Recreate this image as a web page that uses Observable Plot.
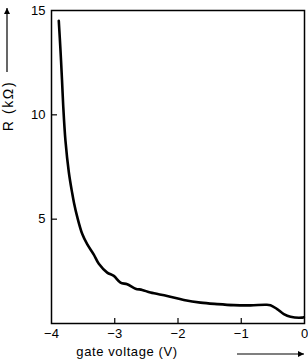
<!DOCTYPE html>
<html><head><meta charset="utf-8">
<script src="https://cdn.jsdelivr.net/npm/d3@7"></script>
<script src="https://cdn.jsdelivr.net/npm/@observablehq/plot@0.6"></script>
<style>body{margin:0;background:#fff}</style>
</head><body><div id="chart"></div>
<script>
const voltage = [-3.885, -3.858, -3.834, -3.815, -3.779, -3.726, -3.673, -3.644, -3.594, -3.515, -3.436, -3.331, -3.252, -3.119, -3.015, -2.909, -2.803, -2.672, -2.566, -2.435, -2.171, -1.908, -1.644, -1.380, -1.118, -0.854, -0.617, -0.538, -0.432, -0.327, -0.221, -0.036, -0.01];
const resistance = [14.51, 13.10, 11.68, 10.45, 8.75, 7.25, 6.25, 5.78, 5.12, 4.30, 3.80, 3.30, 2.86, 2.44, 2.28, 1.96, 1.88, 1.67, 1.61, 1.48, 1.32, 1.13, 1.00, 0.93, 0.88, 0.87, 0.90, 0.88, 0.69, 0.45, 0.32, 0.28, 0.30];
const xTicks = [-4, -3, -2, -1, 0];
const yTicks = [5, 10, 15];
const xLabel = "gate voltage (V)";
const yLabel = "R (kΩ)";

const data = voltage.map((v, i) => ({v, r: resistance[i]}));
const W = 308, H = 360, mL = 51, mR = 4, mT = 10, mB = 37;
const innerX = xTicks.filter(d => d > -4 && d < 0);
const innerY = yTicks.filter(d => d < 15);

const chart = Plot.plot({
  width: W, height: H,
  marginLeft: mL, marginRight: mR, marginTop: mT, marginBottom: mB,
  style: {fontFamily: "'Liberation Sans', Arial, sans-serif", fontSize: "13px", color: "#000", background: "#fff"},
  x: {domain: [-4, 0]},
  y: {domain: [0, 15]},
  marks: [
    Plot.axisX(xTicks, {tickSize: 0, tickPadding: 5, label: null, fontSize: 13}),
    Plot.axisY(yTicks, {tickSize: 0, tickPadding: 6, label: null, fontSize: 13}),
    Plot.tickX(innerX, {x: d => d, insetTop: H - mT - mB - 5, strokeWidth: 1.2}),
    Plot.tickY(innerY, {y: d => d, insetRight: W - mL - mR - 6, strokeWidth: 1.2}),
    Plot.frame({strokeWidth: 1.5}),
    Plot.line(data, {x: "v", y: "r", strokeWidth: 2.6, curve: "catmull-rom"})
  ]
});
document.getElementById("chart").appendChild(chart);

const svg = d3.select(chart);
const defs = svg.append("defs");
defs.append("marker").attr("id", "ah").attr("viewBox", "0 0 10 10")
  .attr("refX", 10).attr("refY", 5).attr("markerWidth", 10).attr("markerHeight", 6)
  .attr("markerUnits", "userSpaceOnUse").attr("orient", "auto")
  .append("path").attr("d", "M0,0L10,5L0,10Z").attr("fill", "#000");

// x-axis label + arrow
svg.append("text").attr("x", mL + 76).attr("y", H - 4)
  .attr("font-size", 13).attr("letter-spacing", "0.6px").attr("fill", "#000").text(xLabel);
svg.append("line").attr("x1", W - mR - 67).attr("x2", W - mR).attr("y1", H - 6).attr("y2", H - 6)
  .attr("stroke", "#000").attr("stroke-width", 1.2).attr("marker-end", "url(#ah)");

// y-axis label + arrow
svg.append("text").attr("transform", `translate(13,106) rotate(-90)`)
  .attr("text-anchor", "middle").attr("font-size", 14).attr("letter-spacing", "1.6px")
  .attr("fill", "#000").text(yLabel);
svg.append("line").attr("x1", 7).attr("x2", 7).attr("y1", 72).attr("y2", 8)
  .attr("stroke", "#000").attr("stroke-width", 1.2).attr("marker-end", "url(#ah)");
</script>
</body></html>
